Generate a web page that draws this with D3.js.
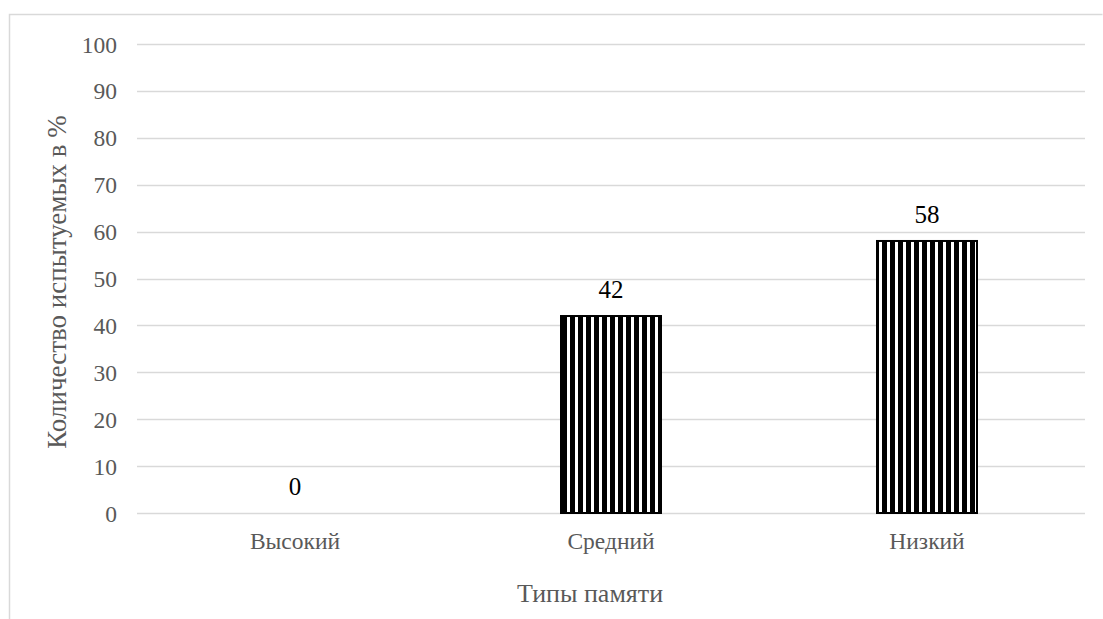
<!DOCTYPE html>
<html><head><meta charset="utf-8">
<script src="https://cdn.jsdelivr.net/npm/d3@7"></script>
<style>body{margin:0;background:#fff}svg{display:block}
svg text{font-family:"Liberation Serif","Times New Roman",serif;}</style>
</head><body>
<script>
const categories = ["Высокий", "Средний", "Низкий"];
const values = [0, 42, 58];
const yTicks = [0, 10, 20, 30, 40, 50, 60, 70, 80, 90, 100];
const yTitle = "Количество испытуемых в %";
const xTitle = "Типы памяти";

const W = 1103, H = 619;
const svg = d3.select("body").append("svg").attr("width", W).attr("height", H);

const defs = svg.append("defs");
const pat = defs.append("pattern").attr("id", "vstripe").attr("patternUnits", "userSpaceOnUse")
  .attr("width", 8).attr("height", 8).attr("x", 2);
pat.append("rect").attr("width", 8).attr("height", 8).attr("fill", "#fff");
pat.append("rect").attr("width", 5).attr("height", 8).attr("fill", "#000");

// outer frame
svg.append("path").attr("d", "M9.5,619 L9.5,14.5 L1102.5,14.5").attr("fill", "none")
  .attr("stroke", "#d9d9d9").attr("stroke-width", 1.5);

const pLeft = 137, pRight = 1085, pTop = 44, pBottom = 513;
const x = d3.scaleBand().domain(categories).range([pLeft, pRight]).padding(0);
const y = d3.scaleLinear().domain([0, 100]).range([pBottom, pTop]);

// grid
svg.append("g").selectAll("line").data(yTicks).join("line")
  .attr("x1", pLeft).attr("x2", pRight)
  .attr("y1", d => Math.round(y(d)) + 0.5).attr("y2", d => Math.round(y(d)) + 0.5)
  .attr("stroke", "#d9d9d9").attr("stroke-width", 1.5);

// y axis labels
const yAxis = d3.axisLeft(y).tickValues(yTicks).tickSize(0).tickPadding(0);
const ya = svg.append("g").attr("transform", `translate(117,0)`).call(yAxis);
ya.select(".domain").remove();
ya.selectAll("text").attr("font-size", 23.5).attr("fill", "#595959").attr("dy", 8);

// x axis labels
const xAxis = d3.axisBottom(x).tickSize(0).tickPadding(0);
const xa = svg.append("g").attr("transform", `translate(0,${pBottom})`).call(xAxis);
xa.select(".domain").remove();
xa.selectAll("text").attr("font-size", 23.5).attr("fill", "#595959").attr("dy", "0").attr("y", 36);

// bars
const bw = 100;
svg.append("g").selectAll("rect").data(values).join("rect")
  .attr("x", (d, i) => x(categories[i]) + x.bandwidth() / 2 - bw / 2)
  .attr("y", d => y(d))
  .attr("width", bw)
  .attr("height", d => y(0) - y(d))
  .attr("fill", "url(#vstripe)")
  .attr("stroke", d => d > 0 ? "#000" : "none")
  .attr("stroke-width", 2);

// data labels
svg.append("g").selectAll("text").data(values).join("text")
  .attr("x", (d, i) => x(categories[i]) + x.bandwidth() / 2)
  .attr("y", d => y(d) - 18)
  .attr("text-anchor", "middle")
  .attr("font-size", 25).attr("fill", "#000")
  .text(d => d);

// titles
svg.append("text").attr("transform", `translate(66,282) rotate(-90)`)
  .attr("text-anchor", "middle").attr("font-size", 27)
  .attr("fill", "#595959").text(yTitle);
svg.append("text").attr("x", 590).attr("y", 602)
  .attr("text-anchor", "middle").attr("font-size", 26)
  .attr("fill", "#595959").text(xTitle);
</script>
</body></html>
